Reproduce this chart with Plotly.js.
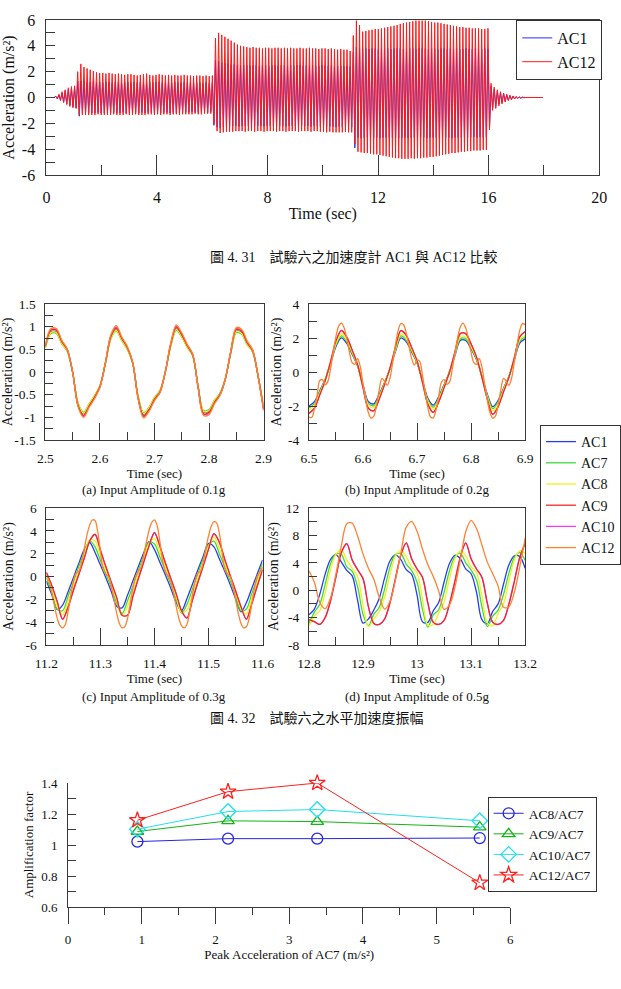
<!DOCTYPE html>
<html>
<head>
<meta charset="utf-8">
<script src="https://cdn.plot.ly/plotly-3.0.1.min.js"></script>
<style>
html,body{margin:0;padding:0;background:#fff;}
#chart{width:621px;height:989px;}
</style>
</head>
<body>
<div id="chart"></div>
<script>
// ---------------- Fig 4.31 : AC1 vs AC12 (cycle extremes) ----------------
const topCyclePeriod = 0.1133; // s
const ac12TopPeaks = [0,0,0, 0.1,0.25,0.45,0.6,0.75,0.85,0.9,
 2.0,2.6,2.35,2.25,2.15,2.05,1.95,1.9,1.9,1.85,
 1.9,1.85,1.8,1.85,1.8,1.75,1.8,1.8,1.75,1.7,
 1.75,1.8,1.85,1.75,1.7,1.75,1.8,1.75,1.7,1.75,
 1.7,1.75,1.7,1.7,1.75,1.7,1.7,1.65,1.7,1.7,
 1.65,1.7,1.65,1.7,
 4.6,5.0,4.85,4.7,4.55,4.4,4.25,4.1,4.0,3.95,
 3.9,3.85,3.9,3.85,3.85,3.8,3.85,3.85,3.8,3.85,
 3.85,3.8,3.85,3.8,3.85,3.8,3.8,3.85,3.8,3.8,
 3.85,3.8,3.8,3.75,3.8,3.8,3.75,3.8,3.75,3.7,
 3.75,3.7,3.7,3.6,
 4.8,5.95,5.6,5.1,5.15,5.2,5.25,5.3,5.3,5.35,
 5.4,5.45,5.5,5.55,5.6,5.7,5.75,5.8,5.85,5.9,
 5.95,5.95,5.95,5.95,5.9,5.85,5.8,5.8,5.75,5.7,
 5.65,5.6,5.55,5.5,5.45,5.45,5.4,5.4,5.35,5.35,
 5.35,5.3,5.3,5.35,
 1.1,0.8,0.6,0.45,0.35,0.25,0.18,0.12,0.08,0.05,0.03,
 0,0,0,0,0,0];
const ac12TopTroughs = [0,0,0, -0.1,-0.25,-0.4,-0.55,-0.7,-0.8,-0.85,
 -1.35,-1.35,-1.35,-1.35,-1.35,-1.35,-1.3,-1.35,-1.35,-1.35,
 -1.35,-1.3,-1.35,-1.35,-1.35,-1.3,-1.35,-1.35,-1.3,-1.35,
 -1.35,-1.35,-1.3,-1.3,-1.35,-1.3,-1.35,-1.3,-1.3,-1.35,
 -1.3,-1.3,-1.35,-1.3,-1.3,-1.3,-1.3,-1.25,-1.3,-1.3,
 -1.25,-1.25,-1.25,-2.05,
 -2.6,-2.75,-2.7,-2.65,-2.65,-2.65,-2.6,-2.6,-2.6,-2.65,
 -2.6,-2.6,-2.65,-2.6,-2.6,-2.65,-2.6,-2.6,-2.6,-2.65,
 -2.6,-2.6,-2.65,-2.6,-2.6,-2.6,-2.65,-2.6,-2.6,-2.6,
 -2.65,-2.6,-2.6,-2.65,-2.65,-2.7,-2.65,-2.7,-2.7,-2.7,
 -2.7,-2.65,-2.7,-2.7,
 -3.6,-4.2,-4.25,-4.3,-4.3,-4.35,-4.4,-4.4,-4.45,-4.5,
 -4.55,-4.6,-4.65,-4.7,-4.7,-4.75,-4.75,-4.75,-4.7,-4.75,
 -4.7,-4.7,-4.65,-4.65,-4.6,-4.6,-4.55,-4.5,-4.45,-4.4,
 -4.35,-4.3,-4.3,-4.25,-4.2,-4.2,-4.15,-4.15,-4.1,-4.1,
 -4.1,-4.05,-4.05,-2.5,
 -1.0,-0.85,-0.65,-0.5,-0.35,-0.25,-0.18,-0.12,-0.08,-0.05,-0.03,
 0,0,0,0,0,0];
const ac1TopPeaks = [0,0,0, 0.1,0.2,0.35,0.5,0.6,0.7,0.75,
 1.25,1.3,1.25,1.2,1.2,1.25,1.2,1.2,1.15,1.2,
 1.2,1.15,1.2,1.2,1.15,1.2,1.2,1.15,1.2,1.15,
 1.2,1.2,1.15,1.2,1.15,1.2,1.2,1.15,1.15,1.2,
 1.15,1.2,1.15,1.15,1.2,1.15,1.15,1.1,1.15,1.15,
 1.1,1.15,1.1,1.15,
 2.9,2.8,2.7,2.65,2.6,2.55,2.55,2.5,2.5,2.5,
 2.5,2.45,2.5,2.5,2.45,2.5,2.5,2.45,2.5,2.5,
 2.45,2.5,2.5,2.45,2.5,2.45,2.5,2.5,2.45,2.5,
 2.45,2.5,2.45,2.45,2.5,2.45,2.45,2.5,2.45,2.45,
 2.45,2.4,2.45,2.4,
 3.5,3.9,3.85,3.8,3.8,3.75,3.8,3.8,3.75,3.8,
 3.8,3.8,3.75,3.8,3.8,3.8,3.75,3.8,3.8,3.8,
 3.75,3.8,3.8,3.8,3.75,3.8,3.8,3.75,3.8,3.8,
 3.75,3.8,3.75,3.8,3.75,3.75,3.8,3.75,3.75,3.8,
 3.75,3.75,3.8,3.75,
 0.9,0.65,0.5,0.38,0.28,0.2,0.14,0.1,0.06,0.04,0.02,
 0,0,0,0,0,0];
const ac1TopTroughs = [0,0,0, -0.1,-0.2,-0.35,-0.5,-0.6,-0.7,-0.8,
 -1.45,-1.2,-1.2,-1.15,-1.2,-1.2,-1.15,-1.2,-1.2,-1.15,
 -1.2,-1.15,-1.2,-1.2,-1.15,-1.2,-1.15,-1.2,-1.15,-1.2,
 -1.15,-1.2,-1.15,-1.15,-1.2,-1.15,-1.2,-1.15,-1.15,-1.2,
 -1.15,-1.15,-1.2,-1.15,-1.15,-1.15,-1.1,-1.15,-1.15,-1.1,
 -1.1,-1.15,-1.1,-2.15,
 -2.3,-2.35,-2.3,-2.25,-2.25,-2.2,-2.2,-2.25,-2.2,-2.2,
 -2.2,-2.25,-2.2,-2.2,-2.2,-2.25,-2.2,-2.2,-2.2,-2.25,
 -2.2,-2.2,-2.25,-2.2,-2.2,-2.2,-2.25,-2.2,-2.2,-2.2,
 -2.25,-2.2,-2.2,-2.25,-2.2,-2.25,-2.25,-2.25,-2.3,-2.25,
 -2.3,-2.25,-2.3,-2.3,
 -3.9,-3.1,-3.15,-3.1,-3.1,-3.15,-3.1,-3.1,-3.15,-3.1,
 -3.1,-3.15,-3.1,-3.1,-3.15,-3.1,-3.1,-3.15,-3.1,-3.1,
 -3.15,-3.1,-3.1,-3.15,-3.1,-3.1,-3.1,-3.15,-3.1,-3.1,
 -3.1,-3.15,-3.1,-3.1,-3.1,-3.05,-3.1,-3.1,-3.05,-3.1,
 -3.05,-3.1,-3.05,-2.3,
 -0.8,-0.65,-0.5,-0.38,-0.28,-0.2,-0.14,-0.1,-0.06,-0.04,-0.02,
 0,0,0,0,0,0];
const topXTicks = [0,4,8,12,16,20];
const topXTickText = ['0','4','8','12','16','20'];
const topYTicks = [-6,-4,-2,0,2,4,6];
const topYTickText = ['-6','-4','-2','0','2','4','6'];

// ---------------- Fig 4.32 : four windows ----------------
const tA = [2.5,2.51,2.52,2.53,2.54,2.55,2.56,2.57,2.58,2.59,2.6,2.61,2.62,2.63,2.64,2.65,2.66,2.67,2.68,2.69,2.7,2.71,2.72,2.73,2.74,2.75,2.76,2.77,2.78,2.79,2.8,2.81,2.82,2.83,2.84,2.85,2.86,2.87,2.88,2.89,2.9];
const ac1A = [0.55,0.88,0.88,0.64,0.47,-0.01,-0.71,-0.92,-0.72,-0.54,-0.31,0.19,0.75,0.93,0.71,0.52,0.2,-0.55,-0.93,-0.8,-0.58,-0.42,0.01,0.6,0.95,0.79,0.56,0.37,-0.32,-0.88,-0.86,-0.64,-0.48,-0.14,0.43,0.9,0.86,0.62,0.45,-0.09,-0.78];
const ac7A = [0.53,0.85,0.85,0.62,0.46,-0.01,-0.69,-0.89,-0.7,-0.52,-0.3,0.18,0.73,0.9,0.69,0.5,0.19,-0.53,-0.9,-0.78,-0.56,-0.41,0.01,0.58,0.92,0.77,0.54,0.36,-0.31,-0.85,-0.83,-0.62,-0.47,-0.14,0.42,0.87,0.83,0.6,0.44,-0.09,-0.76];
const ac8A = [0.54,0.87,0.87,0.63,0.47,-0.01,-0.7,-0.91,-0.71,-0.53,-0.31,0.19,0.74,0.92,0.7,0.51,0.2,-0.54,-0.92,-0.79,-0.57,-0.42,0.01,0.59,0.94,0.78,0.55,0.37,-0.32,-0.87,-0.85,-0.63,-0.48,-0.14,0.43,0.89,0.85,0.61,0.45,-0.09,-0.77];
const ac9A = [0.57,0.92,0.92,0.67,0.49,-0.01,-0.74,-0.96,-0.75,-0.56,-0.32,0.2,0.78,0.97,0.74,0.54,0.21,-0.57,-0.97,-0.83,-0.6,-0.44,0.01,0.62,0.99,0.82,0.58,0.38,-0.33,-0.92,-0.89,-0.67,-0.5,-0.15,0.45,0.94,0.89,0.64,0.47,-0.09,-0.81];
const ac10A = [0.58,0.93,0.93,0.68,0.5,-0.01,-0.75,-0.98,-0.76,-0.57,-0.33,0.2,0.8,0.99,0.75,0.55,0.21,-0.58,-0.99,-0.85,-0.61,-0.45,0.01,0.64,1.01,0.84,0.59,0.39,-0.34,-0.93,-0.91,-0.68,-0.51,-0.15,0.46,0.95,0.91,0.66,0.48,-0.1,-0.83];
const ac12A = [0.6,0.96,0.96,0.7,0.51,-0.01,-0.77,-1.0,-0.78,-0.59,-0.34,0.21,0.82,1.02,0.77,0.57,0.22,-0.6,-1.01,-0.87,-0.63,-0.46,0.01,0.65,1.04,0.86,0.61,0.4,-0.35,-0.96,-0.94,-0.7,-0.52,-0.15,0.47,0.98,0.94,0.68,0.49,-0.1,-0.85];

const tB = [6.5,6.51,6.52,6.53,6.54,6.55,6.56,6.57,6.58,6.59,6.6,6.61,6.62,6.63,6.64,6.65,6.66,6.67,6.68,6.69,6.7,6.71,6.72,6.73,6.74,6.75,6.76,6.77,6.78,6.79,6.8,6.81,6.82,6.83,6.84,6.85,6.86,6.87,6.88,6.89,6.9];
const tBfine = [6.5,6.505,6.51,6.515,6.52,6.525,6.53,6.535,6.54,6.545,6.55,6.555,6.56,6.565,6.57,6.575,6.58,6.585,6.59,6.595,6.6,6.605,6.61,6.615,6.62,6.625,6.63,6.635,6.64,6.645,6.65,6.655,6.66,6.665,6.67,6.675,6.68,6.685,6.69,6.695,6.7,6.705,6.71,6.715,6.72,6.725,6.73,6.735,6.74,6.745,6.75,6.755,6.76,6.765,6.77,6.775,6.78,6.785,6.79,6.795,6.8,6.805,6.81,6.815,6.82,6.825,6.83,6.835,6.84,6.845,6.85,6.855,6.86,6.865,6.87,6.875,6.88,6.885,6.89,6.895,6.9];
const ac1B = [-2.0,-1.75,-1.1,-0.42,0.5,1.5,2.01,1.68,1.05,0.35,-0.75,-1.75,-1.87,-1.3,-0.6,0.2,1.2,2.0,1.77,1.18,0.53,-0.5,-1.55,-1.95,-1.45,-0.75,0.0,0.95,1.85,1.85,1.35,0.72,-0.25,-1.3,-2.04,-1.67,-0.95,-0.25,0.7,1.7,1.95];
const ac7B = [-2.12,-1.86,-1.17,-0.45,0.53,1.59,2.13,1.78,1.11,0.37,-0.8,-1.86,-1.98,-1.38,-0.64,0.21,1.27,2.12,1.88,1.25,0.56,-0.53,-1.64,-2.07,-1.54,-0.8,0.0,1.01,1.96,1.96,1.43,0.76,-0.27,-1.38,-2.16,-1.77,-1.01,-0.27,0.74,1.8,2.07];
const ac8B = [-2.24,-1.96,-1.23,-0.47,0.56,1.68,2.25,1.88,1.18,0.39,-0.84,-1.96,-2.09,-1.46,-0.67,0.22,1.34,2.24,1.98,1.32,0.59,-0.56,-1.74,-2.18,-1.62,-0.84,0.0,1.06,2.07,2.07,1.51,0.81,-0.28,-1.46,-2.28,-1.87,-1.06,-0.28,0.78,1.9,2.18];
const ac9B = [-2.44,-2.14,-1.34,-0.51,0.61,1.83,2.45,2.05,1.28,0.43,-0.92,-2.14,-2.28,-1.59,-0.73,0.24,1.46,2.44,2.16,1.44,0.65,-0.61,-1.89,-2.38,-1.77,-0.92,0.0,1.16,2.26,2.26,1.65,0.88,-0.31,-1.59,-2.49,-2.04,-1.16,-0.31,0.85,2.07,2.38];
const ac10B = [-2.42,-2.12,-1.33,-0.5,0.6,1.82,2.44,2.04,1.27,0.42,-0.91,-2.13,-2.27,-1.58,-0.72,0.24,1.45,2.43,2.15,1.43,0.64,-0.6,-1.88,-2.37,-1.76,-0.91,0.0,1.15,2.25,2.25,1.64,0.87,-0.3,-1.58,-2.48,-2.03,-1.15,-0.3,0.84,2.06,2.37];
const ac12B = [-2.65,-2.68,-2.2,-1.4,-0.5,-0.45,-0.75,-0.55,0.2,1.2,2.1,2.7,
 2.88,2.6,1.95,1.15,0.55,0.45,0.8,0.3,-0.7,-1.65,-2.4,-2.72,-2.6,-1.95,-1.05,-0.38,-0.55,-0.78,-0.35,0.6,1.6,2.45,2.85,
 2.78,2.3,1.55,0.8,0.4,0.7,0.62,-0.2,-1.2,-2.1,-2.65,-2.7,-2.25,-1.45,-0.6,-0.45,-0.72,-0.6,0.15,1.1,2.0,2.65,
 2.88,2.6,1.95,1.15,0.55,0.45,0.8,0.3,-0.7,-1.65,-2.4,-2.72,-2.6,-1.95,-1.05,-0.38,-0.55,-0.78,-0.35,0.6,1.6,2.45,2.85,
 2.78];

const tC = [11.2,11.21,11.22,11.23,11.24,11.25,11.26,11.27,11.28,11.29,11.3,11.31,11.32,11.33,11.34,11.35,11.36,11.37,11.38,11.39,11.4,11.41,11.42,11.43,11.44,11.45,11.46,11.47,11.48,11.49,11.5,11.51,11.52,11.53,11.54,11.55,11.56,11.57,11.58,11.59,11.6];
const tCfine = [11.2,11.205,11.21,11.215,11.22,11.225,11.23,11.235,11.24,11.245,11.25,11.255,11.26,11.265,11.27,11.275,11.28,11.285,11.29,11.295,11.3,11.305,11.31,11.315,11.32,11.325,11.33,11.335,11.34,11.345,11.35,11.355,11.36,11.365,11.37,11.375,11.38,11.385,11.39,11.395,11.4,11.405,11.41,11.415,11.42,11.425,11.43,11.435,11.44,11.445,11.45,11.455,11.46,11.465,11.47,11.475,11.48,11.485,11.49,11.495,11.5,11.505,11.51,11.515,11.52,11.525,11.53,11.535,11.54,11.545,11.55,11.555,11.56,11.565,11.57,11.575,11.58,11.585,11.59,11.595,11.6];
const ac1C = [-0.4,-1.6,-2.9,-2.5,-1.35,-0.1,1.15,2.35,2.98,2.1,1.0,-0.1,-1.3,-2.6,-2.75,-1.65,-0.4,0.85,2.05,3.05,2.35,1.25,0.15,-1.0,-2.25,-3.0,-1.95,-0.7,0.55,1.75,2.9,2.6,1.55,0.45,-0.7,-1.95,-3.1,-2.3,-1.05,0.2,1.45];
const ac7C = [-0.1,-1.35,-2.85,-3.0,-1.75,-0.5,0.85,2.1,3.15,2.6,1.4,0.25,-0.95,-2.3,-3.25,-2.15,-0.85,0.5,1.8,3.0,2.85,1.7,0.55,-0.65,-1.95,-3.2,-2.45,-1.15,0.2,1.5,2.75,3.1,2.0,0.85,-0.35,-1.65,-3.0,-2.85,-1.5,-0.2,1.15];
const ac8C = [0.15,-1.05,-2.55,-3.35,-2.15,-0.8,0.55,1.9,3.2,3.1,1.8,0.55,-0.7,-2.05,-3.45,-2.6,-1.2,0.2,1.55,2.9,3.3,2.1,0.85,-0.4,-1.7,-3.15,-2.95,-1.55,-0.15,1.25,2.6,3.45,2.45,1.15,-0.1,-1.4,-2.8,-3.3,-1.9,-0.5,0.9];
const ac9C = [0.35,-0.8,-2.2,-3.75,-2.7,-1.2,0.2,1.6,3.1,3.7,2.3,0.85,-0.5,-1.85,-3.4,-3.4,-1.75,-0.2,1.25,2.7,3.85,2.65,1.2,-0.15,-1.5,-3.0,-3.65,-2.1,-0.55,0.9,2.4,3.75,3.0,1.5,0.1,-1.25,-2.65,-3.75,-2.4,-0.85,0.6];
const ac10C = [0.34,-0.8,-2.19,-3.73,-2.69,-1.2,0.2,1.59,3.08,3.68,2.29,0.85,-0.5,-1.84,-3.38,-3.39,-1.74,-0.2,1.24,2.69,3.83,2.64,1.19,-0.15,-1.49,-2.99,-3.63,-2.09,-0.55,0.89,2.39,3.73,2.99,1.49,0.1,-1.24,-2.64,-3.73,-2.39,-0.85,0.6];
const ac12C = [0.1,-0.4,-1.4,-2.6,-3.65,-4.3,
 -4.5,-4.2,-3.1,-1.7,-0.4,0.3,0.45,1.2,2.4,3.6,4.5,4.95,4.9,3.9,2.2,0.6,0.2,0.0,-0.8,-2.0,-3.2,-4.1,-4.5,
 -4.4,-3.7,-2.4,-1.05,0.0,0.4,0.8,1.8,3.0,4.05,4.75,4.95,4.45,3.05,1.4,0.4,0.1,-0.4,-1.4,-2.6,-3.65,-4.3,
 -4.5,-4.2,-3.1,-1.7,-0.4,0.3,0.45,1.2,2.4,3.55,4.4,4.8,4.7,3.8,2.2,0.6,0.2,0.0,-0.8,-2.0,-3.2,-4.1,-4.5,
 -4.4,-3.7,-2.4,-1.05,0.0,0.4,0.8];

const tD = [12.8,12.81,12.82,12.83,12.84,12.85,12.86,12.87,12.88,12.89,12.9,12.91,12.92,12.93,12.94,12.95,12.96,12.97,12.98,12.99,13.0,13.01,13.02,13.03,13.04,13.05,13.06,13.07,13.08,13.09,13.1,13.11,13.12,13.13,13.14,13.15,13.16,13.17,13.18,13.19,13.2];
const ac1D = [-3.6,-2.75,-0.6,2.35,4.5,5.2,4.1,2.9,2.1,-1.5,-4.8,-4.2,-2.9,-1.2,1.8,4.3,5.15,4.45,3.0,2.3,-0.7,-4.6,-4.7,-3.0,-1.8,1.2,3.9,5.1,4.6,3.1,2.4,-0.3,-4.3,-4.9,-3.1,-2.0,0.9,3.7,5.0,4.9,3.2];
const ac7D = [-4.9,-3.2,-2.05,0.85,3.9,5.3,5.2,3.4,2.75,0.5,-3.5,-5.2,-3.5,-2.5,0.2,3.4,5.2,5.35,3.8,2.85,1.15,-2.75,-5.4,-3.6,-2.85,-0.3,2.85,4.9,5.4,4.0,2.95,1.5,-2.45,-5.3,-3.8,-2.9,-0.6,2.5,4.75,5.5,4.35];
const ac8D = [-5.2,-3.8,-3.0,-0.35,3.05,5.25,5.9,4.4,3.2,2.0,-2.1,-5.3,-4.2,-3.15,-1.0,2.3,5.0,5.85,4.85,3.4,2.5,-1.25,-5.1,-5.0,-3.35,-1.7,1.7,4.6,5.75,5.0,3.4,2.6,-0.8,-4.75,-5.2,-3.4,-2.0,1.35,4.4,5.75,5.4];
const ac9D = [-4.3,-4.6,-5.0,-4.0,-1.5,2.0,5.5,6.8,4.4,3.0,1.7,-2.4,-4.85,-5.0,-4.2,-1.8,1.7,5.15,6.9,4.6,3.1,1.9,-1.9,-4.7,-5.0,-4.4,-2.0,1.3,4.8,6.9,4.6,3.1,1.9,-1.9,-4.7,-5.0,-4.4,-2.0,1.3,4.8,6.8];
const ac10D = [-4.28,-4.58,-4.98,-3.98,-1.5,1.99,5.48,6.78,4.39,2.99,1.7,-2.39,-4.83,-4.98,-4.19,-1.8,1.7,5.13,6.88,4.59,3.09,1.9,-1.9,-4.68,-4.98,-4.39,-2.0,1.3,4.78,6.88,4.59,3.09,1.9,-1.9,-4.68,-4.98,-4.39,-2.0,1.3,4.78,6.78];
const ac12D = [2.85,1.15,-1.8,-2.7,-1.1,2.4,6.5,9.7,9.8,7.9,5.3,3.2,1.6,-1.0,-2.75,-1.6,1.5,5.4,9.2,10.0,8.6,6.0,3.7,2.0,-0.1,-2.8,-2.15,0.4,4.4,8.5,10.2,9.0,6.6,4.1,2.4,0.6,-2.5,-2.4,-0.3,3.4,7.6];

const aXTicks=[2.5,2.6,2.7,2.8,2.9], aXText=['2.5','2.6','2.7','2.8','2.9'];
const aYTicks=[-1.5,-1,-0.5,0,0.5,1,1.5], aYText=['-1.5','-1','-0.5','0','0.5','1','1.5'];
const bXTicks=[6.5,6.6,6.7,6.8,6.9], bXText=['6.5','6.6','6.7','6.8','6.9'];
const bYTicks=[-4,-2,0,2,4], bYText=['-4','-2','0','2','4'];
const cXTicks=[11.2,11.3,11.4,11.5,11.6], cXText=['11.2','11.3','11.4','11.5','11.6'];
const cYTicks=[-6,-4,-2,0,2,4,6], cYText=['-6','-4','-2','0','2','4','6'];
const dXTicks=[12.8,12.9,13,13.1,13.2], dXText=['12.8','12.9','13','13.1','13.2'];
const dYTicks=[-8,-4,0,4,8,12], dYText=['-8','-4','0','4','8','12'];

// ---------------- Amplification factor ----------------
const peakAC7 = [0.94, 2.17, 3.38, 5.585];
const ratioAC8 = [1.022, 1.041, 1.041, 1.045];
const ratioAC9 = [1.087, 1.156, 1.151, 1.115];
const ratioAC10 = [1.102, 1.216, 1.229, 1.156];
const ratioAC12 = [1.160, 1.344, 1.400, 0.756];
const ampXTicks=[0,1,2,3,4,5,6], ampXText=['0','1','2','3','4','5','6'];
const ampYTicks=[0.6,0.8,1,1.2,1.4], ampYText=['0.6','0.8','1','1.2','1.4'];

// ---------------- build ----------------
const SERIF = 'Liberation Serif, Times New Roman, serif';
const CAPFONT = 'Liberation Serif, Noto Sans CJK TC, serif';
const AXC = '#3a3a3a';
const TXT = '#111';

const topX1=[], topY1=[], topX12=[], topY12=[];
for (let k=0;k<ac12TopPeaks.length;k++){
  topX12.push(k*topCyclePeriod, (k+0.5)*topCyclePeriod);
  topY12.push(ac12TopPeaks[k], ac12TopTroughs[k]);
  topX1.push(k*topCyclePeriod, (k+0.5)*topCyclePeriod);
  topY1.push(ac1TopPeaks[k], ac1TopTroughs[k]);
}

const traces = [];
traces.push({x:topX1,y:topY1,name:'AC1',mode:'lines',line:{color:'#2a2aff',width:1},xaxis:'x',yaxis:'y',legend:'legend'});
traces.push({x:topX12,y:topY12,name:'AC12',mode:'lines',line:{color:'#ff1a1a',width:1},xaxis:'x',yaxis:'y',legend:'legend'});

const COL = {AC1:'#2a3cf0',AC7:'#3cdc3c',AC8:'#f2f21e',AC9:'#f02828',AC10:'#f040f0',AC12:'#ff8232'};
const RANK = {AC1:1,AC7:2,AC8:3,AC9:4,AC10:5,AC12:6};
const panels = [
  {xa:'x2',ya:'y2',show:true,  s:[['AC10',tA,ac10A],['AC1',tA,ac1A],['AC7',tA,ac7A],['AC8',tA,ac8A],['AC9',tA,ac9A],['AC12',tA,ac12A]]},
  {xa:'x3',ya:'y3',show:false, s:[['AC10',tB,ac10B],['AC1',tB,ac1B],['AC7',tB,ac7B],['AC8',tB,ac8B],['AC9',tB,ac9B],['AC12',tBfine,ac12B]]},
  {xa:'x4',ya:'y4',show:false, s:[['AC10',tC,ac10C],['AC1',tC,ac1C],['AC7',tC,ac7C],['AC8',tC,ac8C],['AC9',tC,ac9C],['AC12',tCfine,ac12C]]},
  {xa:'x5',ya:'y5',show:false, s:[['AC10',tD,ac10D],['AC1',tD,ac1D],['AC7',tD,ac7D],['AC8',tD,ac8D],['AC9',tD,ac9D],['AC12',tD,ac12D]]}
];
panels.forEach(p=>{
  p.s.forEach(([nm,xs,ys])=>{
    traces.push({x:xs,y:ys,name:nm,mode:'lines',line:{color:COL[nm],width:1.3,shape:'spline',smoothing:0.9},
      xaxis:p.xa,yaxis:p.ya,legend:'legend2',showlegend:p.show,legendrank:RANK[nm],legendgroup:nm});
  });
});

const ampSeries = [
  ['AC8/AC7',ratioAC8,'#2525e6','circle-open',11],
  ['AC9/AC7',ratioAC9,'#14b414','triangle-up-open',11],
  ['AC10/AC7',ratioAC10,'#22e0ee','diamond-open',12],
  ['AC12/AC7',ratioAC12,'#ff2020','star-open',12]
];
ampSeries.forEach(([nm,ys,c,sym,sz])=>{
  traces.push({x:peakAC7,y:ys,name:nm,mode:'lines+markers',cliponaxis:false,
    line:{color:c,width:1},marker:{symbol:sym,size:sz,color:c,line:{color:c,width:1.3}},
    xaxis:'x6',yaxis:'y6',legend:'legend3'});
});

function boxAxis(o){
  return Object.assign({
    showline:true, mirror:true, linecolor:AXC, linewidth:1,
    ticks:'inside', tickcolor:AXC, tickwidth:1, tickmode:'array',
    showgrid:false, zeroline:false, fixedrange:true,
    tickfont:{family:SERIF,size:13.5,color:TXT}
  }, o);
}
function fy(py){return 1-py/989;}
function fx(px){return px/621;}

const titleFont = s => ({family:SERIF,size:s,color:TXT});
const accTitle = 'Acceleration (m/s²)';

const layout = {
  width:621, height:989, margin:{l:0,r:0,t:0,b:0},
  font:{family:SERIF,size:13,color:TXT},
  paper_bgcolor:'#fff', plot_bgcolor:'#fff', showlegend:true,
  xaxis: boxAxis({domain:[fx(47),fx(607)],anchor:'y',range:[0,20],tickvals:topXTicks,ticktext:topXTickText,
    ticklen:20, minor:{ticks:'inside',ticklen:10,tickmode:'linear',tick0:0,dtick:2,tickcolor:AXC},
    tickfont:titleFont(16), ticklabelstandoff:8, title:{text:'Time (sec)',font:titleFont(16),standoff:2}}),
  yaxis: boxAxis({domain:[fy(175),fy(20)],anchor:'x',range:[-6,6],tickvals:topYTicks,ticktext:topYTickText,
    ticklen:9, minor:{ticks:'inside',ticklen:9,tickmode:'linear',tick0:0,dtick:1,tickcolor:AXC},
    tickfont:titleFont(16), ticklabelstandoff:7, title:{text:accTitle,font:titleFont(16),standoff:3}}),

  xaxis2: boxAxis({domain:[fx(46),fx(267)],anchor:'y2',range:[2.5,2.9],tickvals:aXTicks,ticktext:aXText,ticklen:17,
    minor:{ticks:'inside',ticklen:8,tickmode:'linear',tick0:2.5,dtick:0.05,tickcolor:AXC},ticklabelstandoff:6,
    title:{text:'Time (sec)',font:titleFont(13),standoff:1}}),
  yaxis2: boxAxis({domain:[fy(440),fy(304)],anchor:'x2',range:[-1.5,1.5],tickvals:aYTicks,ticktext:aYText,ticklen:8,
    minor:{ticks:'inside',ticklen:8,tickmode:'linear',tick0:0,dtick:0.25,tickcolor:AXC},ticklabelstandoff:6,
    title:{text:accTitle,font:titleFont(14),standoff:8}}),
  xaxis3: boxAxis({domain:[fx(313),fx(532)],anchor:'y3',range:[6.5,6.9],tickvals:bXTicks,ticktext:bXText,ticklen:17,
    minor:{ticks:'inside',ticklen:8,tickmode:'linear',tick0:6.5,dtick:0.05,tickcolor:AXC},ticklabelstandoff:6,
    title:{text:'Time (sec)',font:titleFont(13),standoff:1}}),
  yaxis3: boxAxis({domain:[fy(440),fy(304)],anchor:'x3',range:[-4,4],tickvals:bYTicks,ticktext:bYText,ticklen:8,
    minor:{ticks:'inside',ticklen:8,tickmode:'linear',tick0:0,dtick:1,tickcolor:AXC},ticklabelstandoff:6,
    title:{text:accTitle,font:titleFont(14),standoff:3}}),
  xaxis4: boxAxis({domain:[fx(47),fx(266)],anchor:'y4',range:[11.2,11.6],tickvals:cXTicks,ticktext:cXText,ticklen:17,
    minor:{ticks:'inside',ticklen:8,tickmode:'linear',tick0:11.2,dtick:0.05,tickcolor:AXC},ticklabelstandoff:6,
    title:{text:'Time (sec)',font:titleFont(13),standoff:1}}),
  yaxis4: boxAxis({domain:[fy(645),fy(508)],anchor:'x4',range:[-6,6],tickvals:cYTicks,ticktext:cYText,ticklen:8,
    minor:{ticks:'inside',ticklen:8,tickmode:'linear',tick0:0,dtick:1,tickcolor:AXC},ticklabelstandoff:6,
    title:{text:accTitle,font:titleFont(14),standoff:8}}),
  xaxis5: boxAxis({domain:[fx(313),fx(532)],anchor:'y5',range:[12.8,13.2],tickvals:dXTicks,ticktext:dXText,ticklen:17,
    minor:{ticks:'inside',ticklen:8,tickmode:'linear',tick0:12.8,dtick:0.05,tickcolor:AXC},ticklabelstandoff:6,
    title:{text:'Time (sec)',font:titleFont(13),standoff:1}}),
  yaxis5: boxAxis({domain:[fy(645),fy(508)],anchor:'x5',range:[-8,12],tickvals:dYTicks,ticktext:dYText,ticklen:8,
    minor:{ticks:'inside',ticklen:8,tickmode:'linear',tick0:0,dtick:2,tickcolor:AXC},ticklabelstandoff:6,
    title:{text:accTitle,font:titleFont(14),standoff:3}}),

  xaxis6: {domain:[fx(69),fx(517)],anchor:'y6',range:[0,6],tickmode:'array',tickvals:ampXTicks,ticktext:ampXText,
    showline:true,mirror:false,linecolor:AXC,linewidth:1,ticks:'outside',ticklen:16,tickcolor:AXC,
    minor:{ticks:'outside',ticklen:7,tickmode:'linear',tick0:0,dtick:0.5,tickcolor:AXC},
    showgrid:false,zeroline:false,fixedrange:true,tickfont:titleFont(13),ticklabelstandoff:4,
    title:{text:'Peak Acceleration of AC7 (m/s²)',font:titleFont(13),standoff:1}},
  yaxis6: {domain:[fy(907),fy(783)],anchor:'x6',range:[0.6,1.4],tickmode:'array',tickvals:ampYTicks,ticktext:ampYText,
    showline:true,mirror:false,linecolor:AXC,linewidth:1,ticks:'inside',ticklen:8,tickcolor:AXC,
    minor:{ticks:'inside',ticklen:8,tickmode:'linear',tick0:0.6,dtick:0.1,tickcolor:AXC},
    showgrid:false,zeroline:false,fixedrange:true,tickfont:titleFont(13),ticklabelstandoff:7,
    title:{text:'Amplification factor',font:titleFont(13),standoff:4}},

  legend:{x:fx(523),y:fy(20),xanchor:'left',yanchor:'top',bgcolor:'#fff',bordercolor:'#333',borderwidth:1,
    font:{family:SERIF,size:16,color:TXT},itemwidth:30},
  legend2:{x:fx(547),y:fy(425),xanchor:'left',yanchor:'top',bgcolor:'#fff',bordercolor:'#333',borderwidth:1,
    font:{family:SERIF,size:14,color:TXT},itemwidth:30,traceorder:'normal'},
  legend3:{x:fx(494),y:fy(797),xanchor:'left',yanchor:'top',bgcolor:'#fff',bordercolor:'#333',borderwidth:1,
    font:{family:SERIF,size:13.5,color:TXT},itemwidth:30},

  annotations:[
    {text:'圖 4. 31　試驗六之加速度計 AC1 與 AC12 比較',x:fx(211),y:fy(257),xref:'paper',yref:'paper',showarrow:false,
      xanchor:'left',yanchor:'middle',font:{family:CAPFONT,size:14,color:TXT}},
    {text:'(a) Input Amplitude of 0.1g',x:fx(156.5),y:fy(489),xref:'paper',yref:'paper',showarrow:false,
      xanchor:'center',yanchor:'middle',font:titleFont(13)},
    {text:'(b) Input Amplitude of 0.2g',x:fx(422.5),y:fy(489),xref:'paper',yref:'paper',showarrow:false,
      xanchor:'center',yanchor:'middle',font:titleFont(13)},
    {text:'(c) Input Amplitude of 0.3g',x:fx(156.5),y:fy(696),xref:'paper',yref:'paper',showarrow:false,
      xanchor:'center',yanchor:'middle',font:titleFont(13)},
    {text:'(d) Input Amplitude of 0.5g',x:fx(422.5),y:fy(696),xref:'paper',yref:'paper',showarrow:false,
      xanchor:'center',yanchor:'middle',font:titleFont(13)},
    {text:'圖 4. 32　試驗六之水平加速度振幅',x:fx(211),y:fy(718),xref:'paper',yref:'paper',showarrow:false,
      xanchor:'left',yanchor:'middle',font:{family:CAPFONT,size:14,color:TXT}}
  ]
};

Plotly.newPlot('chart', traces, layout, {displayModeBar:false, staticPlot:true});
</script>
</body>
</html>
